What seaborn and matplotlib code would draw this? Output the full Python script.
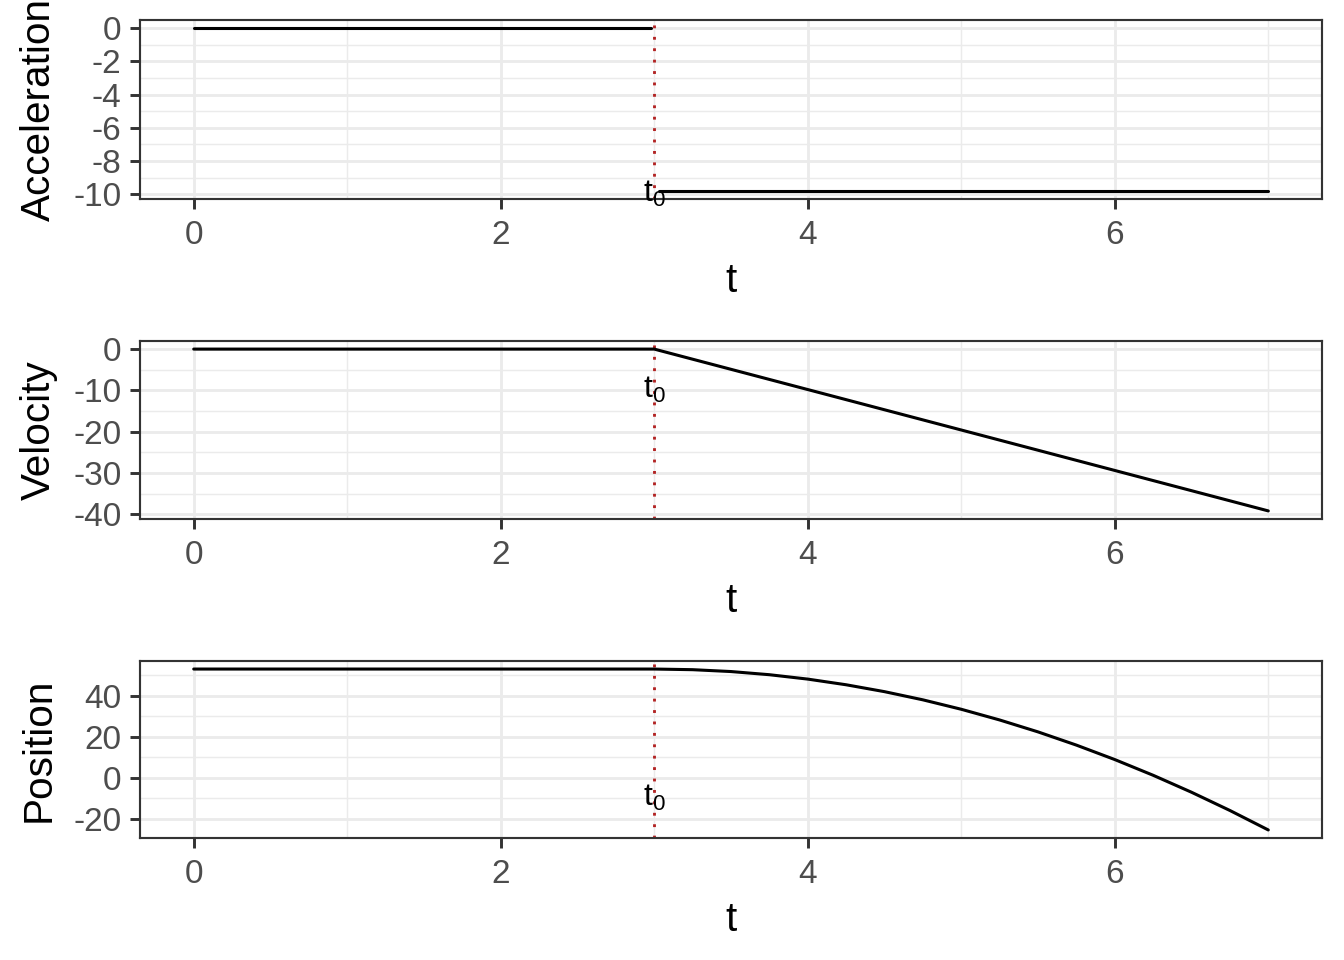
import numpy as np
import pandas as pd
import matplotlib
matplotlib.use("Agg")
import matplotlib.pyplot as plt
import seaborn as sns
from matplotlib.ticker import MultipleLocator

# ---- data ----
t0 = 3.0
acc_t1 = [0.0, 2.98]
acc_v1 = [0.0, 0.0]
acc_t2 = [3.03, 7.0]
acc_v2 = [-9.8, -9.8]

vel_t = [0.0, 3.0, 7.0]
vel_v = [0.0, 0.0, -39.2]

pos_t = [0.0, 3.0, 3.25, 3.5, 3.75, 4.0, 4.25, 4.5, 4.75, 5.0, 5.25, 5.5,
         5.75, 6.0, 6.25, 6.5, 6.75, 7.0]
pos_v = [53.0, 53.0, 52.69, 51.78, 50.24, 48.1, 45.34, 41.98, 38.0, 33.4,
         28.19, 22.38, 15.94, 8.9, 1.24, -7.03, -15.91, -25.4]

x_ticks = [0, 2, 4, 6]
acc_ticks = [0, -2, -4, -6, -8, -10]
vel_ticks = [0, -10, -20, -30, -40]
pos_ticks = [-20, 0, 20, 40]
label_y = -10

sns.set_theme(style="white")
plt.rcParams['font.family'] = ['Liberation Sans', 'DejaVu Sans']
plt.rcParams['mathtext.fontset'] = 'custom'
plt.rcParams['mathtext.rm'] = 'DejaVu Sans'

fig = plt.figure(figsize=(7, 5), dpi=192)
L, R = 140 / 1344, 1322 / 1344
boxes = [(20, 199), (341, 519), (661, 838)]
axes = []
for top, bot in boxes:
    axes.append(fig.add_axes([L, 1 - bot / 960, R - L, (bot - top) / 960]))

acc_df = pd.DataFrame({
    "t": acc_t1 + acc_t2,
    "y": acc_v1 + acc_v2,
    "seg": [0] * len(acc_t1) + [1] * len(acc_t2),
})
vel_df = pd.DataFrame({"t": vel_t, "y": vel_v})
pos_df = pd.DataFrame({"t": pos_t, "y": pos_v})

specs = [
    (axes[0], acc_df, "Acceleration", acc_ticks),
    (axes[1], vel_df, "Velocity", vel_ticks),
    (axes[2], pos_df, "Position", pos_ticks),
]

grey20 = "#333333"
grey30 = "#4D4D4D"
grey92 = "#EBEBEB"

for ax, df, name, yt in specs:
    if "seg" in df:
        sns.lineplot(data=df, x="t", y="y", units="seg", estimator=None,
                     sort=False, color="black", linewidth=1.15, ax=ax, zorder=3)
    else:
        sns.lineplot(data=df, x="t", y="y", estimator=None, sort=False,
                     color="black", linewidth=1.15, ax=ax, zorder=3)
    ymin, ymax = min(df["y"]), max(df["y"])
    yr = ymax - ymin
    ax.set_ylim(ymin - 0.05 * yr, ymax + 0.05 * yr)
    ax.set_xlim(-0.35, 7.35)
    ax.axvline(t0, color="#B22222", linewidth=1.07, linestyle=(0, (1, 3)),
               dash_capstyle="butt", zorder=2)
    ax.text(t0, label_y, r"$\mathregular{t_0}$", ha="center", va="center",
            fontsize=12, color="black", zorder=4)
    ax.set_xticks(x_ticks)
    ax.set_yticks(yt)
    ax.set_yticklabels([str(v) for v in yt])
    ax.xaxis.set_minor_locator(MultipleLocator(1))
    step = abs(yt[1] - yt[0])
    ax.yaxis.set_minor_locator(MultipleLocator(step / 2))
    ax.grid(which="major", color=grey92, linewidth=1.07, zorder=0)
    ax.grid(which="minor", color=grey92, linewidth=0.53, zorder=0)
    ax.set_axisbelow(True)
    ax.tick_params(which="major", length=3.9, width=1.1, color=grey20,
                   labelsize=12.5, labelcolor=grey30, bottom=True, left=True)
    ax.tick_params(axis="x", which="major", pad=4.0)
    ax.tick_params(axis="y", which="major", pad=3.0)
    ax.tick_params(which="minor", length=0)
    for s in ax.spines.values():
        s.set_color(grey20)
        s.set_linewidth(0.8)
    ax.set_xlabel("t", fontsize=15.2, color="black", labelpad=4.0)
    ax.set_ylabel(name, fontsize=15.2, color="black", labelpad=6.0)
    ax.set_facecolor("white")

fig.savefig("out.png", dpi=192, facecolor="white")
